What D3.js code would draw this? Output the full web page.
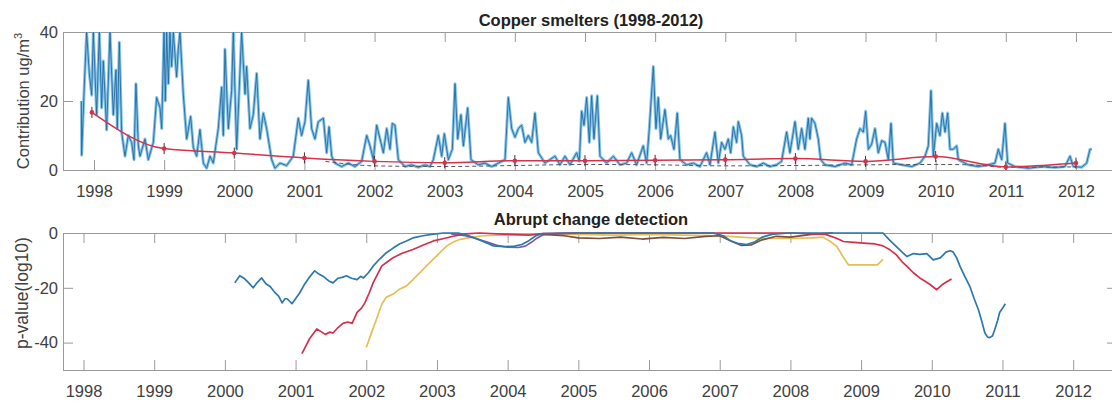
<!DOCTYPE html>
<html><head><meta charset="utf-8">
<script src="https://cdn.jsdelivr.net/npm/d3@7"></script>
<style>
body{margin:0;background:#fff}
text{font-family:"Liberation Sans",Arial,Helvetica,sans-serif}
</style>
</head><body>
<svg id="chart" width="1112" height="401"></svg>
<script>
// ---------------- DATA ----------------
const yearTicks = [1998,1999,2000,2001,2002,2003,2004,2005,2006,2007,2008,2009,2010,2011,2012];
const topYTicks = [0,20,40];
const bottomYTicks = [-40,-20,0];
const topTitle = "Copper smelters (1998-2012)";
const bottomTitle = "Abrupt change detection";

// Copper smelter contribution (ug/m3): [decimal year, value]
const copperSeries = [
 [1997.82,20],[1997.824,4.3],[1997.857,22],[1997.895,40],[1997.933,28],[1997.967,21.7],[1997.99,40],
 [1998.038,16],[1998.076,40],[1998.109,18],[1998.133,31.6],[1998.18,11.6],[1998.228,40],[1998.275,16],
 [1998.313,29],[1998.332,12],[1998.361,37],[1998.394,11],[1998.442,4],[1998.489,10],[1998.537,8],
 [1998.57,3],[1998.598,25],[1998.632,7],[1998.656,4],[1998.727,9],[1998.774,3],[1998.846,8],
 [1998.893,21],[1998.941,18],[1998.965,12],[1998.998,40],[1999.017,20],[1999.036,40],[1999.06,25],
 [1999.083,40],[1999.107,30],[1999.131,40],[1999.178,27],[1999.202,35],[1999.226,40],[1999.273,22],
 [1999.321,9],[1999.378,15.5],[1999.416,6.5],[1999.464,4],[1999.511,11.7],[1999.559,2],[1999.606,0.5],
 [1999.654,4],[1999.701,2],[1999.772,12],[1999.82,24],[1999.843,10],[1999.867,35],[1999.915,12],
 [1999.962,23],[1999.986,40],[2000.034,6],[2000.105,40],[2000.153,22],[2000.176,30],[2000.224,12],
 [2000.271,16],[2000.319,28],[2000.366,9],[2000.414,16.5],[2000.461,12],[2000.533,3],[2000.58,0.5],
 [2000.651,2],[2000.746,1.3],[2000.841,4],[2000.913,15],[2000.96,10],[2001.008,14],[2001.055,26],
 [2001.103,12],[2001.15,9],[2001.198,14],[2001.27,15],[2001.317,5],[2001.351,12.5],[2001.389,4],
 [2001.436,2],[2001.531,1],[2001.626,2],[2001.721,1],[2001.816,2.5],[2001.888,10],[2001.935,7],
 [2001.983,3],[2002.03,13],[2002.078,9],[2002.125,5],[2002.173,12],[2002.22,6],[2002.253,13.5],
 [2002.291,13],[2002.339,3],[2002.434,1],[2002.529,1.5],[2002.624,0.8],[2002.719,1.5],[2002.79,1],
 [2002.838,3],[2002.909,10],[2002.957,4],[2002.995,10.5],[2003.052,3],[2003.109,6],[2003.147,25],
 [2003.185,9],[2003.232,16],[2003.266,7],[2003.327,18],[2003.375,3],[2003.479,1.5],[2003.574,2],
 [2003.67,1],[2003.765,2],[2003.86,3],[2003.907,21],[2003.955,12],[2004.002,9.5],[2004.05,12],
 [2004.097,13],[2004.145,8],[2004.192,10],[2004.24,8],[2004.287,16.5],[2004.335,5],[2004.43,2],
 [2004.572,4],[2004.644,1.5],[2004.715,4],[2004.786,1.5],[2004.881,5],[2004.919,2.5],[2004.952,17],
 [2004.986,13],[2005.024,21],[2005.062,8],[2005.095,21.5],[2005.128,9],[2005.176,21.5],[2005.214,4],
 [2005.309,2],[2005.404,4],[2005.499,1.5],[2005.594,2],[2005.665,5],[2005.736,1.5],[2005.831,7],
 [2005.879,2],[2005.917,12],[2005.974,30],[2006.012,12],[2006.045,21],[2006.079,9],[2006.14,17.5],
 [2006.188,9],[2006.221,10],[2006.269,6],[2006.316,16.5],[2006.354,3],[2006.449,1.5],[2006.544,2],
 [2006.639,1],[2006.734,5],[2006.782,1.5],[2006.853,11],[2006.901,2],[2006.948,8],[2006.996,6],
 [2007.043,9],[2007.077,5],[2007.115,12.5],[2007.162,8],[2007.186,14],[2007.233,10],[2007.257,4],
 [2007.352,1.5],[2007.447,1],[2007.542,2],[2007.637,1],[2007.732,1.5],[2007.803,2.5],[2007.875,11],
 [2007.922,5],[2007.994,14],[2008.041,6],[2008.089,12],[2008.136,6],[2008.184,15],[2008.207,9],
 [2008.231,15],[2008.279,13.5],[2008.326,9],[2008.36,3],[2008.422,1.5],[2008.565,1],[2008.707,2],
 [2008.802,1.5],[2008.873,9],[2008.921,12],[2008.968,11],[2009.002,17],[2009.04,6],[2009.087,7.5],
 [2009.135,12],[2009.182,5],[2009.23,8.5],[2009.277,8],[2009.325,3],[2009.363,13.5],[2009.396,2],
 [2009.515,1.5],[2009.658,1],[2009.776,2],[2009.848,4],[2009.895,7],[2009.933,23],[2009.966,4],
 [2010.014,13.5],[2010.061,10],[2010.095,16.5],[2010.133,11],[2010.171,16.5],[2010.204,6],[2010.251,6],
 [2010.299,7],[2010.323,3],[2010.465,1.5],[2010.608,1],[2010.75,1.5],[2010.845,2],[2010.893,6],
 [2010.941,3],[2010.988,13.5],[2011.026,2],[2011.131,1],[2011.321,0.5],[2011.511,1],[2011.701,0.7],
 [2011.843,1],[2011.915,4],[2011.962,1],[2012.081,0.8],[2012.152,2],[2012.2,6],[2012.224,6]
];

// annual trend (red) and lower dashed trend
const trendYears  = [1997.97,1999,2000,2001,2002,2003,2004,2005,2006,2007,2008,2009,2010,2011,2012];
const trendValues = [16.7,6.2,4.9,3.5,2.5,2.1,2.7,2.7,2.8,3.0,3.3,2.5,3.9,0.9,2.0];
const floorYears  = [2001.3,2002,2003,2004,2005,2006,2007,2008,2009,2010,2010.5,2011,2012];
const floorValues = [2.5,1.2,1.0,1.3,1.6,1.5,1.2,1.3,1.5,1.6,1.5,0.8,0.9];

// p-value (log10) series: [decimal year, value]
const pBlue = [
 [2000.14,-18.2],[2000.21,-15.6],[2000.27,-16.5],[2000.33,-18],[2000.4,-20],[2000.46,-18],[2000.52,-16.4],
 [2000.58,-18.5],[2000.64,-19.5],[2000.71,-21.8],[2000.76,-23],[2000.81,-25.5],[2000.85,-24],[2000.88,-24],
 [2000.92,-25],[2000.95,-25.8],[2001.0,-24],[2001.06,-21.8],[2001.12,-19],[2001.2,-16],[2001.27,-13.8],
 [2001.33,-15],[2001.4,-16],[2001.47,-17.5],[2001.53,-18.2],[2001.6,-16.5],[2001.66,-16.2],[2001.72,-15.6],
 [2001.79,-16.5],[2001.87,-17],[2001.92,-15.8],[2001.96,-16.4],[2002.03,-14.5],[2002.1,-12],[2002.19,-9.5],
 [2002.27,-7.5],[2002.38,-5.5],[2002.47,-4],[2002.56,-3],[2002.66,-1.8],[2002.8,-1],[2002.95,-0.4],
 [2003.1,0],[2003.3,0],[2003.45,-1],[2003.6,-2.5],[2003.72,-3.8],[2003.8,-4.7],[2003.95,-5],[2004.1,-4.8],
 [2004.2,-4.2],[2004.3,-2.8],[2004.4,-1],[2004.5,-0.2],[2005,0],[2006,0],[2006.9,0],[2007.05,-1],
 [2007.15,-2.8],[2007.25,-3.8],[2007.38,-4.2],[2007.5,-3.2],[2007.6,-1.5],[2007.75,-0.4],[2008,0],
 [2008.5,0],[2009.0,0],[2009.31,0],[2009.4,-2.5],[2009.5,-5],[2009.58,-7],[2009.65,-8.6],[2009.74,-7.5],
 [2009.83,-7.8],[2009.93,-7.5],[2010.02,-9.8],[2010.12,-9.1],[2010.2,-7],[2010.26,-6.5],[2010.3,-6.9],
 [2010.35,-9],[2010.4,-12.2],[2010.47,-16],[2010.54,-19.6],[2010.6,-24],[2010.66,-28],[2010.71,-32.5],
 [2010.75,-36.4],[2010.79,-38],[2010.82,-38.2],[2010.86,-37.5],[2010.89,-35.3],[2010.93,-32],
 [2010.96,-29],[2011.0,-27.5],[2011.04,-25.8]
];
const pRed = [
 [2001.09,-44],[2001.15,-41],[2001.2,-38.5],[2001.3,-35],[2001.36,-36],[2001.42,-37],[2001.48,-36.2],
 [2001.53,-36.5],[2001.6,-34.5],[2001.67,-33],[2001.74,-32.5],[2001.8,-33],[2001.87,-29],[2001.93,-27.5],
 [2001.98,-25.5],[2002.04,-22],[2002.1,-18],[2002.16,-15],[2002.22,-12],[2002.3,-10.5],[2002.38,-9],
 [2002.5,-7.5],[2002.66,-6],[2002.8,-4.5],[2002.95,-2.9],[2003.1,-2],[2003.23,-1.2],[2003.4,-0.3],
 [2003.6,0],[2004.0,-0.5],[2004.3,-0.8],[2004.5,-0.2],[2005,0],[2006,0],[2007,0],[2008,0],[2008.5,-0.5],
 [2008.66,-2],[2008.75,-3.1],[2008.9,-3.4],[2009.08,-3.8],[2009.2,-4],[2009.31,-4.7],[2009.4,-6],
 [2009.5,-8],[2009.58,-10.5],[2009.65,-12.2],[2009.74,-14.5],[2009.83,-16.4],[2009.9,-17.5],
 [2009.98,-18.9],[2010.07,-20.7],[2010.14,-19],[2010.2,-18],[2010.28,-16.8]
];
const pYellow = [
 [2002.0,-41.8],[2002.08,-36],[2002.15,-31],[2002.22,-26],[2002.28,-23.5],[2002.38,-22.3],[2002.47,-20.5],
 [2002.57,-19.3],[2002.66,-17],[2002.76,-14.5],[2002.85,-12],[2002.95,-9.5],[2003.05,-7],[2003.14,-4.7],
 [2003.24,-3.2],[2003.33,-2.3],[2003.5,-1.5],[2003.65,-1],[2003.9,-0.8],[2004.2,-0.5],[2004.5,-0.3],
 [2005,-0.5],[2005.5,-0.8],[2006,-0.5],[2006.5,-0.8],[2007,-1],[2007.3,-1.5],[2007.6,-2],[2008.0,-2],
 [2008.3,-1.8],[2008.46,-1.5],[2008.56,-3],[2008.66,-5],[2008.74,-8.5],[2008.82,-11.6],[2009.0,-11.6],
 [2009.23,-11.6],[2009.31,-9.6]
];
const pPurple = [
 [2003.2,-0.3],[2003.4,-1],[2003.55,-2],[2003.7,-3.2],[2003.85,-4.5],[2004.0,-5.2],[2004.15,-5.3],
 [2004.25,-4.8],[2004.33,-3.5],[2004.42,-1.8],[2004.5,-0.6],[2004.7,-0.2],[2005.0,-0.1]
];
const pBrown = [
 [2004.5,-0.5],[2004.8,-1],[2005.0,-1.8],[2005.3,-2],[2005.6,-1.5],[2005.9,-2.2],[2006.2,-1.6],[2006.5,-2],
 [2006.8,-1.2],[2007.0,-1],[2007.15,-2.8],[2007.3,-4.5],[2007.45,-4.3],[2007.6,-2.5],[2007.8,-1.2],
 [2008.0,-1.5],[2008.3,-0.5],[2008.6,0]
];

// ---------------- DRAW ----------------
const svg = d3.select("#chart");
svg.append("rect").attr("width",1112).attr("height",401).attr("fill","#fff");

const axisColor = "#9a9a9a", textColor = "#404040";
const boxTop = {l:63, r:1117, t:32, b:170};
const boxBot = {l:63, r:1117, t:233, b:370};
const numFmt = d => String(d);   // plain hyphen-minus like the original

const xTop = d3.scaleLinear().domain([1997.558, 2012.585]).range([boxTop.l, boxTop.r]);
const yTop = d3.scaleLinear().domain([0, 40]).range([boxTop.b, boxTop.t]);
const xBot = d3.scaleLinear().domain([1997.71, 2012.62]).range([boxBot.l, boxBot.r]);
const yBot = d3.scaleLinear().domain([-50, 0]).range([boxBot.b, boxBot.t]);

const defs = svg.append("defs");
defs.append("clipPath").attr("id","clipTop").append("rect")
  .attr("x",boxTop.l).attr("y",boxTop.t).attr("width",boxTop.r-boxTop.l).attr("height",boxTop.b-boxTop.t);
defs.append("clipPath").attr("id","clipBot").append("rect")
  .attr("x",boxBot.l).attr("y",boxBot.t-1).attr("width",boxBot.r-boxBot.l).attr("height",boxBot.b-boxBot.t+1);

function frame(p, x, y, yt) {
  const g = svg.append("g");
  const styleAxis = sel => {
    sel.select(".domain").remove();
    sel.selectAll("line").attr("stroke", axisColor);
    sel.selectAll("text").attr("fill", textColor).attr("font-size", 16.5);
  };
  g.append("g").attr("transform",`translate(0,${p.b})`)
    .call(d3.axisBottom(x).tickValues(yearTicks).tickFormat(numFmt).tickSizeInner(-10).tickPadding(15))
    .call(styleAxis);
  g.append("g").attr("transform",`translate(0,${p.t})`)
    .call(d3.axisTop(x).tickValues(yearTicks).tickFormat("").tickSizeInner(-10))
    .call(styleAxis);
  g.append("g").attr("transform",`translate(${p.l},0)`)
    .call(d3.axisLeft(y).tickValues(yt).tickFormat(numFmt).tickSizeInner(-10).tickPadding(5))
    .call(styleAxis);
  g.append("g").attr("transform",`translate(${p.r},0)`)
    .call(d3.axisRight(y).tickValues(yt).tickFormat("").tickSizeInner(-10))
    .call(styleAxis);
  g.append("rect").attr("x",p.l+0.5).attr("y",p.t+0.5).attr("width",p.r-p.l).attr("height",p.b-p.t)
    .attr("fill","none").attr("stroke",axisColor).attr("stroke-width",1);
  return g;
}

// ---- top panel ----
frame(boxTop, xTop, yTop, topYTicks);
const gt = svg.append("g").attr("clip-path","url(#clipTop)");
const lineTop = d3.line().x(d=>xTop(d[0])).y(d=>yTop(d[1]));
gt.append("path").datum(copperSeries).attr("d",lineTop)
  .attr("fill","none").attr("stroke","#86c4e6").attr("stroke-width",3).attr("stroke-linejoin","round");
gt.append("path").datum(copperSeries).attr("d",lineTop)
  .attr("fill","none").attr("stroke","#236aa3").attr("stroke-width",0.9).attr("stroke-linejoin","round");

const floorPts = floorYears.map((t,i)=>[t,floorValues[i]]);
gt.append("path").datum(floorPts)
  .attr("d",d3.line().x(d=>xTop(d[0])).y(d=>yTop(d[1])).curve(d3.curveMonotoneX))
  .attr("fill","none").attr("stroke","#555").attr("stroke-width",1).attr("stroke-dasharray","4,3");

const trendPts = trendYears.map((t,i)=>[t,trendValues[i]]);
gt.append("path").datum(trendPts).attr("d",d3.line().x(d=>xTop(d[0])).y(d=>yTop(d[1])).curve(d3.curveMonotoneX))
  .attr("fill","none").attr("stroke","#d8314c").attr("stroke-width",1.5);
gt.selectAll("line.err").data(trendPts).join("line").attr("class","err")
  .attr("x1",d=>xTop(d[0])).attr("x2",d=>xTop(d[0]))
  .attr("y1",d=>yTop(d[1]-1.6)).attr("y2",d=>yTop(d[1]+1.6))
  .attr("stroke","#4a2a30").attr("stroke-width",1);
gt.selectAll("circle.mk").data(trendPts).join("circle").attr("class","mk")
  .attr("cx",d=>xTop(d[0])).attr("cy",d=>yTop(d[1])).attr("r",2.3).attr("fill","#d8314c");

svg.append("text").attr("x",591).attr("y",26).attr("text-anchor","middle")
  .attr("font-size",16.5).attr("font-weight","bold").attr("fill","#222").text(topTitle);
const yl = svg.append("text").attr("transform","translate(29,101) rotate(-90)")
  .attr("text-anchor","middle").attr("font-size",16.5).attr("fill",textColor);
yl.append("tspan").text("Contribution ug/m");
yl.append("tspan").attr("font-size",11).attr("dy",-7).text("3");

// ---- bottom panel ----
frame(boxBot, xBot, yBot, bottomYTicks);
const gb = svg.append("g").attr("clip-path","url(#clipBot)");
const lineBot = d3.line().x(d=>xBot(d[0])).y(d=>yBot(d[1]));
const pSeries = [
  {data:pYellow, color:"#e3bf55"},
  {data:pPurple, color:"#7b5aa6"},
  {data:pBrown,  color:"#7d4e3c"},
  {data:pRed,    color:"#d2304b"},
  {data:pBlue,   color:"#2c78aa"}
];
pSeries.forEach(s=>{
  gb.append("path").datum(s.data).attr("d",lineBot)
    .attr("fill","none").attr("stroke",s.color).attr("stroke-width",1.7).attr("stroke-linejoin","round");
});
svg.append("text").attr("x",591).attr("y",225).attr("text-anchor","middle")
  .attr("font-size",16.5).attr("font-weight","bold").attr("fill","#222").text(bottomTitle);
svg.append("text").attr("transform","translate(28,293) rotate(-90)")
  .attr("text-anchor","middle").attr("font-size",17.5).attr("fill",textColor).text("p-value(log10)");
</script>
</body></html>
